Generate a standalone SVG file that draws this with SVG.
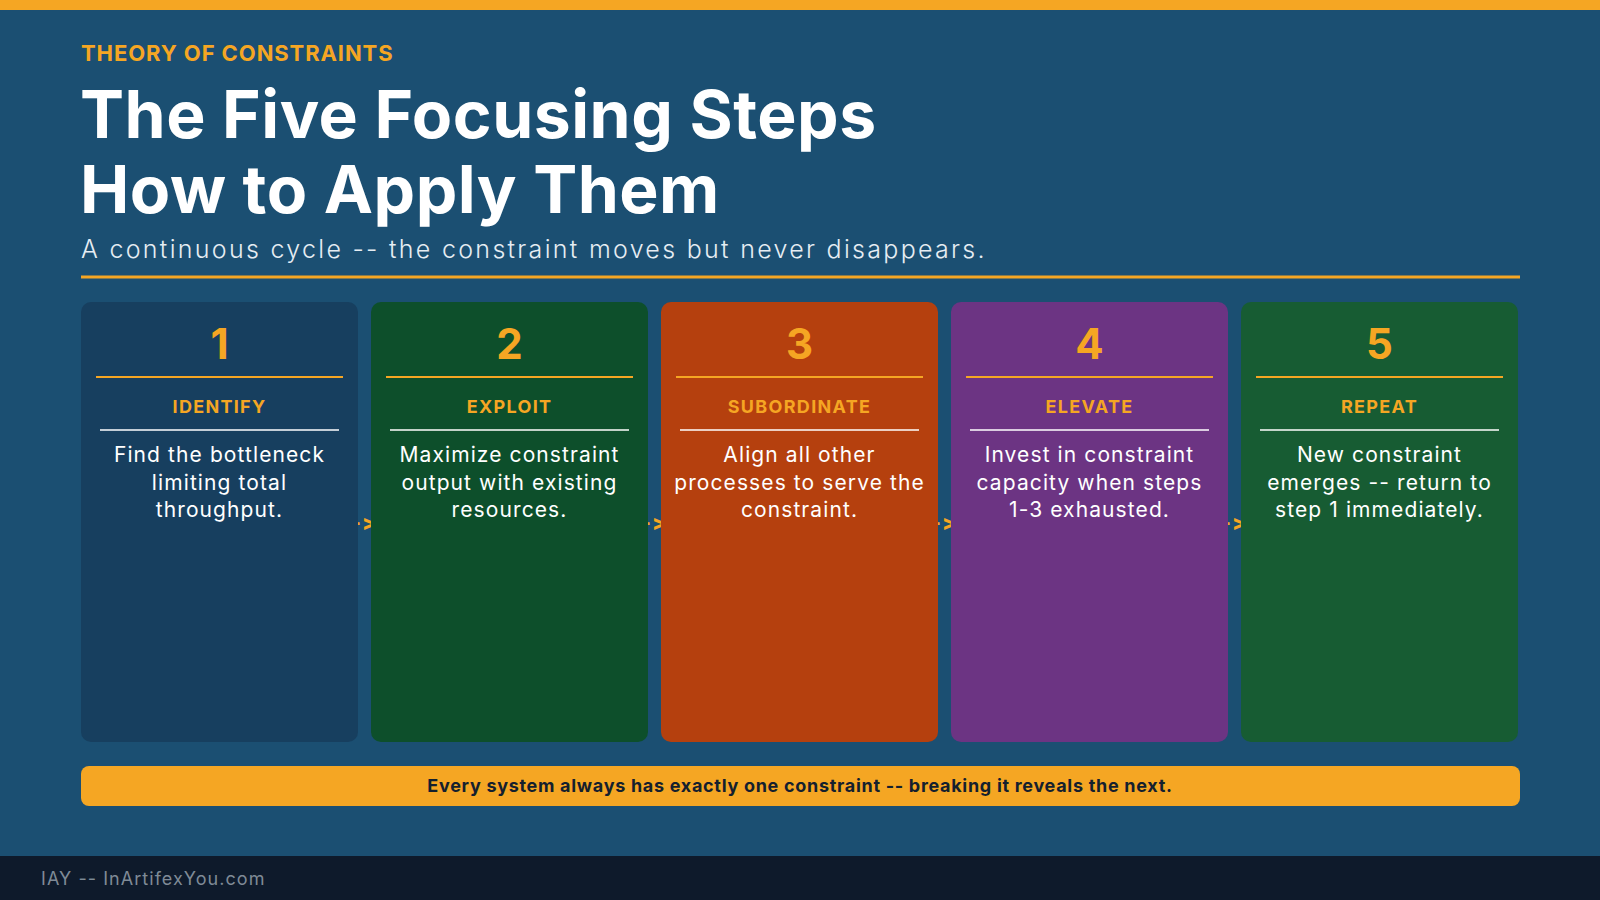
<svg xmlns="http://www.w3.org/2000/svg" width="1600" height="900" viewBox="0 0 1600 900">
<style>
text{font-feature-settings:"calt" 0,"liga" 0;font-variant-ligatures:none}
.kicker{font-family:Inter,"Liberation Sans",sans-serif;font-weight:700;font-size:22px;fill:#f5a623;letter-spacing:0.9px}
.title{font-family:Inter,"Liberation Sans",sans-serif;font-weight:700;font-size:66px;fill:#ffffff;letter-spacing:0.5px}
.sub{font-family:Inter,"Liberation Sans",sans-serif;font-weight:300;font-size:25px;fill:#e6edf3;letter-spacing:2.3px}
.num{font-family:Inter,"Liberation Sans",sans-serif;font-weight:700;font-size:42px;fill:#f5a623;text-anchor:middle}
.lab{font-family:Inter,"Liberation Sans",sans-serif;font-weight:700;font-size:18px;fill:#f5a623;text-anchor:middle;letter-spacing:1.3px}
.body{font-family:Inter,"Liberation Sans",sans-serif;font-size:21px;fill:#ffffff;text-anchor:middle;letter-spacing:1.1px}
.oline{stroke:#f5a623;stroke-width:2}
.wline{stroke:#ffffff;stroke-width:1.5}
.arrow{font-family:Inter,"Liberation Sans",sans-serif;font-weight:800;font-size:21px;fill:#f5a623;letter-spacing:1px}
</style>
<rect x="0" y="0" width="1600" height="900" fill="#1b4f72"/>
<rect x="0" y="0" width="1600" height="10" fill="#f5a623"/>
<g id="header">
<text class="kicker" x="81" y="61">THEORY OF CONSTRAINTS</text>
<text class="title" x="80" y="138">The Five Focusing Steps</text>
<text class="title" x="80" y="213">How to Apply Them</text>
<text class="sub" x="81" y="258">A continuous cycle -- the constraint moves but never disappears.</text>
<rect x="81" y="275.500" width="1439" height="3" fill="#f5a623"/>
</g>
<g id="connectors">
<text class="arrow" x="351" y="530">-&gt;</text>
<text class="arrow" x="641" y="530">-&gt;</text>
<text class="arrow" x="931" y="530">-&gt;</text>
<text class="arrow" x="1221" y="530">-&gt;</text>
</g>
<g id="step1">
<rect x="81" y="302" width="277" height="440" rx="10" fill="#173f5f"/>
<text class="num" x="219.500" y="359">1</text>
<line class="oline" x1="96" y1="377" x2="343" y2="377"/>
<text class="lab" x="219.500" y="413">IDENTIFY</text>
<line class="wline" x1="100" y1="430" x2="339" y2="430"/>
<text class="body" x="219.500" y="462">Find the bottleneck</text>
<text class="body" x="219.500" y="490">limiting total</text>
<text class="body" x="219.500" y="517">throughput.</text>
</g>
<g id="step2">
<rect x="371" y="302" width="277" height="440" rx="10" fill="#0d4f2b"/>
<text class="num" x="509.500" y="359">2</text>
<line class="oline" x1="386" y1="377" x2="633" y2="377"/>
<text class="lab" x="509.500" y="413">EXPLOIT</text>
<line class="wline" x1="390" y1="430" x2="629" y2="430"/>
<text class="body" x="509.500" y="462">Maximize constraint</text>
<text class="body" x="509.500" y="490">output with existing</text>
<text class="body" x="509.500" y="517">resources.</text>
</g>
<g id="step3">
<rect x="661" y="302" width="277" height="440" rx="10" fill="#b5400e"/>
<text class="num" x="799.500" y="359">3</text>
<line class="oline" x1="676" y1="377" x2="923" y2="377"/>
<text class="lab" x="799.500" y="413">SUBORDINATE</text>
<line class="wline" x1="680" y1="430" x2="919" y2="430"/>
<text class="body" x="799.500" y="462">Align all other</text>
<text class="body" x="799.500" y="490">processes to serve the</text>
<text class="body" x="799.500" y="517">constraint.</text>
</g>
<g id="step4">
<rect x="951" y="302" width="277" height="440" rx="10" fill="#6c3483"/>
<text class="num" x="1089.500" y="359">4</text>
<line class="oline" x1="966" y1="377" x2="1213" y2="377"/>
<text class="lab" x="1089.500" y="413">ELEVATE</text>
<line class="wline" x1="970" y1="430" x2="1209" y2="430"/>
<text class="body" x="1089.500" y="462">Invest in constraint</text>
<text class="body" x="1089.500" y="490">capacity when steps</text>
<text class="body" x="1089.500" y="517">1-3 exhausted.</text>
</g>
<g id="step5">
<rect x="1241" y="302" width="277" height="440" rx="10" fill="#175c33"/>
<text class="num" x="1379.500" y="359">5</text>
<line class="oline" x1="1256" y1="377" x2="1503" y2="377"/>
<text class="lab" x="1379.500" y="413">REPEAT</text>
<line class="wline" x1="1260" y1="430" x2="1499" y2="430"/>
<text class="body" x="1379.500" y="462">New constraint</text>
<text class="body" x="1379.500" y="490">emerges -- return to</text>
<text class="body" x="1379.500" y="517">step 1 immediately.</text>
</g>
<g id="banner">
<rect x="81" y="766" width="1439" height="40" rx="8" fill="#f5a623"/>
<text x="800" y="792" text-anchor="middle" font-family="Inter,'Liberation Sans',sans-serif" font-weight="700" font-size="18" letter-spacing="0.7" fill="#14202e">Every system always has exactly one constraint -- breaking it reveals the next.</text>
</g>
<g id="footer">
<rect x="0" y="856" width="1600" height="44" fill="#0e1a2b"/>
<text x="41" y="885" font-family="Inter,'Liberation Sans',sans-serif" font-size="18" fill="#7f8a96" letter-spacing="1.05">IAY -- InArtifexYou.com</text>
</g>
</svg>
